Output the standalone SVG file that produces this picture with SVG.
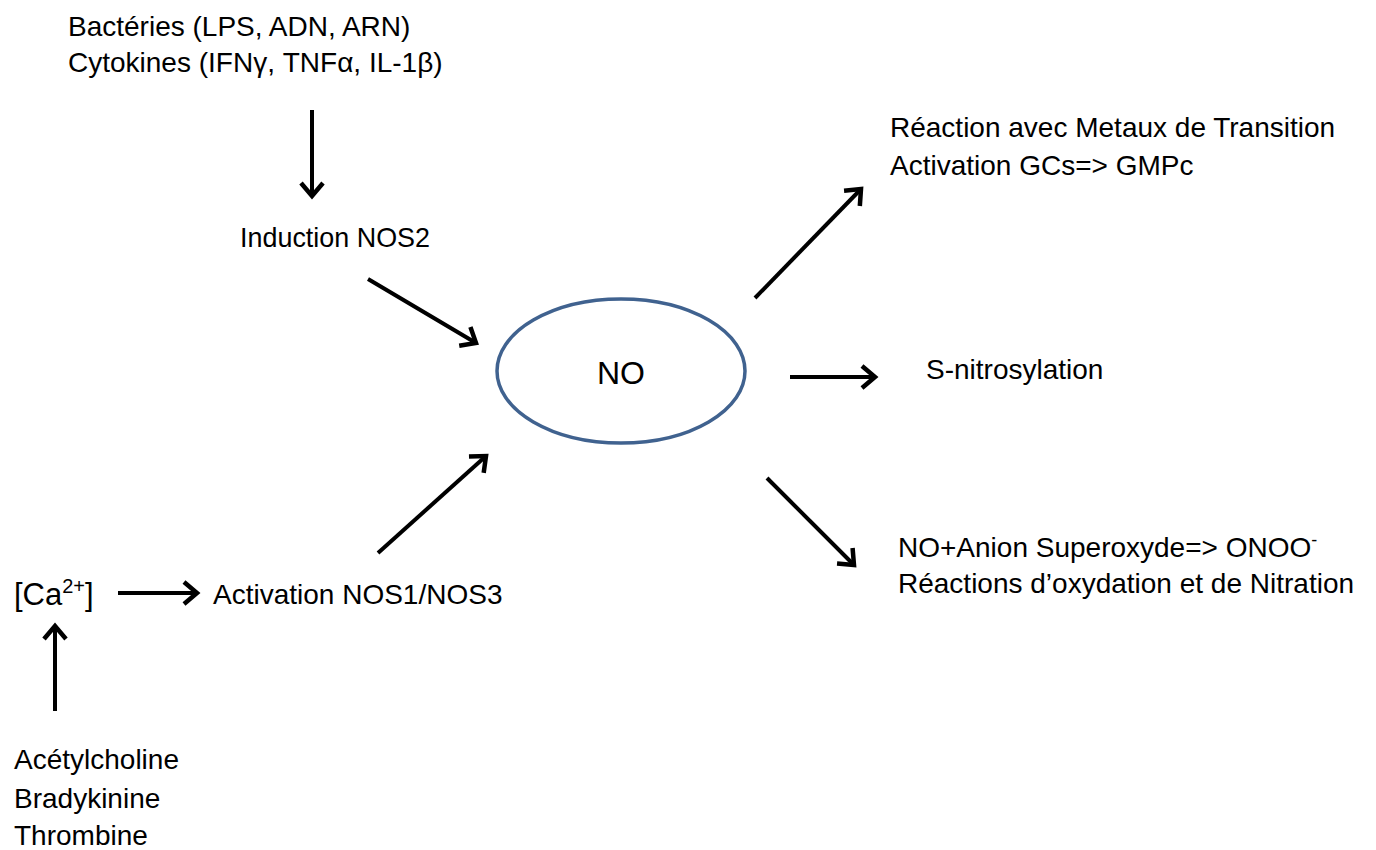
<svg xmlns="http://www.w3.org/2000/svg" width="1376" height="850" viewBox="0 0 1376 850">
<style>
text{font-family:"Liberation Sans",Arial,sans-serif;font-size:28px;fill:#000}
.c{stroke:#000;stroke-width:4;fill:none;marker-end:url(#ah)}
</style>
<defs>
<marker id="ah" markerUnits="userSpaceOnUse" markerWidth="28" markerHeight="28" viewBox="-20 -14 28 28" refX="0" refY="0" orient="auto">
<path d="M-13,-11 L0,0 L-13,11" fill="none" stroke="#000" stroke-width="4.5"/>
</marker>
</defs>
<rect width="1376" height="850" fill="#fff"/>
<g id="stimuli-bacteries">
<text x="68" y="36">Bactéries (LPS, ADN, ARN)</text>
<text x="68" y="72">Cytokines (IFNγ, TNFα, IL-1β)</text>
</g>
<g id="induction-nos2"><text x="240" y="247" textLength="190" lengthAdjust="spacingAndGlyphs">Induction NOS2</text></g>
<g id="no"><ellipse cx="621" cy="371" rx="124" ry="72" fill="none" stroke="#40628f" stroke-width="3.5"/>
<text x="621" y="384" text-anchor="middle" style="font-size:32px">NO</text></g>
<g id="metaux">
<text x="890" y="137">Réaction avec Metaux de Transition</text>
<text x="890" y="175">Activation GCs=&gt; GMPc</text>
</g>
<g id="snitrosylation"><text x="926" y="379">S-nitrosylation</text></g>
<g id="peroxynitrite">
<text x="898" y="557">NO+Anion Superoxyde=&gt; ONOO<tspan dy="-11" style="font-size:18px">-</tspan></text>
<text x="898" y="593">Réactions d’oxydation et de Nitration</text>
</g>
<g id="calcium"><text x="14" y="605" style="font-size:31px">[Ca<tspan dy="-12" style="font-size:20px">2+</tspan><tspan dy="12">]</tspan></text></g>
<g id="activation-nos13"><text x="213" y="604">Activation NOS1/NOS3</text></g>
<g id="agonistes">
<text x="14" y="769">Acétylcholine</text>
<text x="14" y="808">Bradykinine</text>
<text x="14" y="845">Thrombine</text>
</g>
<g id="connectors">
<line class="c" x1="312" y1="110" x2="312" y2="196"/>
<line class="c" x1="368" y1="279" x2="476" y2="343"/>
<line class="c" x1="755" y1="298" x2="861" y2="189"/>
<line class="c" x1="790" y1="377" x2="875" y2="377"/>
<line class="c" x1="767" y1="478" x2="854" y2="565"/>
<line class="c" x1="378" y1="553" x2="486" y2="456"/>
<line class="c" x1="118" y1="593" x2="197" y2="593"/>
<line class="c" x1="55" y1="711" x2="55" y2="626"/>
</g>
</svg>
